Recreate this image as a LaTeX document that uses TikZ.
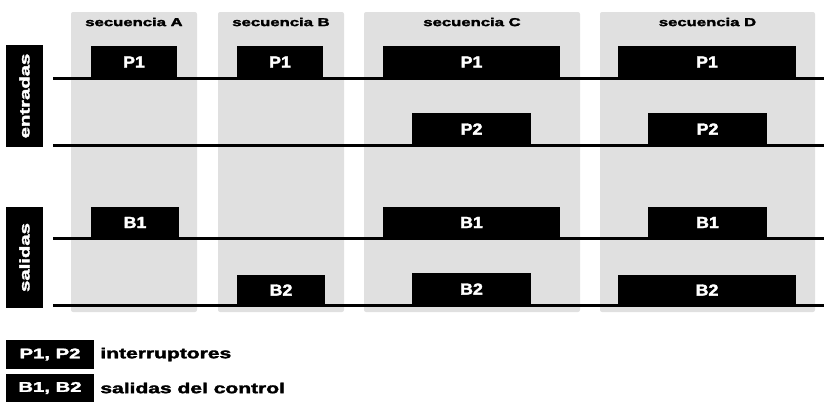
\documentclass[tikz,border=0pt]{standalone}
\usepackage{fontspec}
\usepackage{graphicx}
\setmainfont{Liberation Sans}[BoldFeatures={FakeBold=2}]
\usetikzlibrary{positioning,fit}
\definecolor{cPanel}{HTML}{E0E0E0}
\newcommand\widetxt[2][1.45]{\scalebox{#1}[1]{#2}}
\tikzset{
  panel/.style={fill=cPanel,draw=none,rounded corners=2pt,inner sep=0pt},
  hdr/.style={font=\bfseries\fontsize{11.5}{13}\selectfont,text=black,inner sep=0pt},
  pulse/.style={fill=black,inner sep=0pt,label={[text=white,inner sep=0pt,font=\bfseries\fontsize{16}{18}\selectfont]center:\widetxt[1.12]{#1}}},
  sig/.style={line width=3pt,black},
  tag/.style={fill=black,text=white,inner sep=0pt,font=\bfseries\fontsize{14}{16}\selectfont},
  legtxt/.style={font=\bfseries\fontsize{14.5}{16}\selectfont,text=black,inner sep=0pt},
}
\begin{document}
\begin{tikzpicture}[x=1pt,y=-1pt]
  \useasboundingbox (0,0) rectangle (824,402);
  % panels for each sequence
  \foreach \n/\l/\r in {A/71/197,B/218/344,C/364/580,D/600/815}{
    \node[panel,fit={(\l,12) (\r,312)}] (p\n) {};
    \node[hdr] (h\n) at ({(\l+\r)/2},22) {\widetxt{secuencia \n}};}
  % signal lines
  \foreach \y/\nm in {78/ea,145/eb,238/sa,305/sb}{
    \coordinate (\nm0) at (53,\y);
    \coordinate (\nm1) at (824,\y);
    \draw[sig] (\nm0) -- (\nm1);}
  % pulses
  \foreach \i/\t/\l/\r/\y/\h in {1/P1/91/177/78/46,2/P1/237/323/78/46,3/P1/383/560/78/46,4/P1/618/796/78/46,
      5/P2/412/531/145/113,6/P2/648/767/145/113,
      7/B1/91/179/238/207,8/B1/383/560/238/207,9/B1/648/767/238/207,
      10/B2/237/325/305/275,11/B2/412/531/305/273,12/B2/618/796/305/275}
    \node[pulse=\t,fit={(\l,\h) (\r,\y)}] (q\i) {};
  % side tags
  \node[tag,rotate=90,minimum width=102pt,minimum height=37pt] (ent) at (24.5,96) {\widetxt{entradas}};
  \node[tag,rotate=90,minimum width=101pt,minimum height=37pt] (sal) at (24.5,257.5) {\widetxt{salidas}};
  % legend
  \node[tag,minimum width=88pt,minimum height=29pt] (k1) at (50,354.5) {\widetxt{P1, P2}};
  \node[legtxt,right=6pt of k1] (t1) {\widetxt{interruptores}};
  \node[tag,minimum width=88pt,minimum height=28pt] (k2) at (50,388) {\widetxt{B1, B2}};
  \node[legtxt,right=6pt of k2] (t2) {\widetxt{salidas del control}};
\end{tikzpicture}
\end{document}
